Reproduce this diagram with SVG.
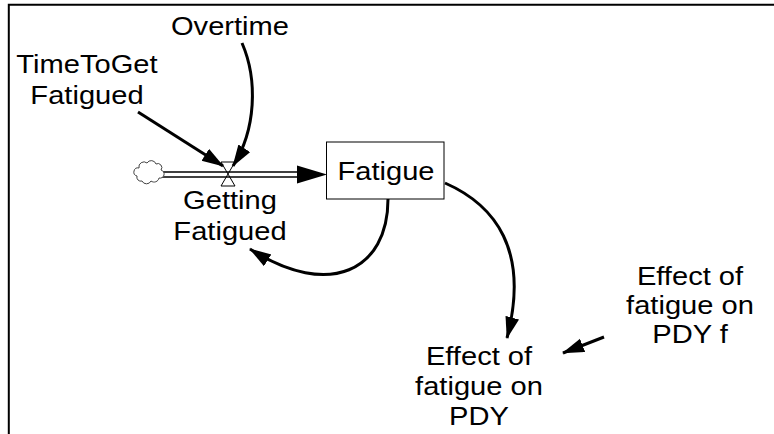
<svg xmlns="http://www.w3.org/2000/svg" width="774" height="434" viewBox="0 0 774 434">
<style>
.lbl{font-family:"Liberation Sans",Arial,sans-serif;font-size:26px;fill:#000;text-anchor:middle}
.link{fill:none;stroke:#000;stroke-width:3;marker-end:url(#ah)}
.frame{stroke:#000;stroke-width:2;fill:none}
</style>
<defs>
<marker id="ah" markerUnits="userSpaceOnUse" markerWidth="24" markerHeight="16" refX="21" refY="7" orient="auto">
<path d="M0,0 L22,7 L0,14 Z" fill="#000"/>
</marker>
</defs>
<rect width="774" height="434" fill="#fff"/>
<path class="frame" d="M8.8,434 L8.8,4.8 L774,4.8"/>

<g id="connectors">
<g id="flow-pipe">
<line x1="162" y1="174.5" x2="299" y2="174.5" stroke="#000" stroke-width="6.5"/>
<line x1="161" y1="174.5" x2="300" y2="174.5" stroke="#fff" stroke-width="3.5"/>
<polygon points="297,165.5 327,174.5 297,183.5" fill="#000"/>
</g>
<path class="link" d="M138,112 L223,166"/>
<path class="link" d="M242,43 C258,80 256,130 233,166"/>
<path class="link" d="M388,199 C388,270 330,300 250,249"/>
<path class="link" d="M445,183 C495,205 530,250 507,338"/>
<path class="link" d="M604,337 L563,353"/>
</g>

<g id="cloud">
<path d="M137,176 a4,4 0 0,1 2,-8 a5,5 0 0,1 8,-5 a5,5 0 0,1 9,1 a4,4 0 0,1 5,6 a4,4 0 0,1 -2,8 a5,5 0 0,1 -8,3 a5,5 0 0,1 -9,0 a4,4 0 0,1 -5,-5 Z" fill="#fff" stroke="#444" stroke-width="1"/>
</g>

<g id="overtime">
<text class="lbl" transform="translate(230,35) scale(1.12,1)">Overtime</text>
</g>

<g id="timetoget">
<text class="lbl" transform="translate(87,73) scale(1.12,1)"><tspan x="0" y="0">TimeToGet</tspan><tspan x="0" y="31">Fatigued</tspan></text>
</g>

<g id="getting-fatigued">
<path d="M221,162 L235,162 L221,186 L235,186 Z" fill="none" stroke="#000" stroke-width="1"/>
<text class="lbl" transform="translate(230,209) scale(1.12,1)"><tspan x="0" y="0">Getting</tspan><tspan x="0" y="31">Fatigued</tspan></text>
</g>

<g id="fatigue">
<rect x="326.5" y="142" width="117.5" height="57" fill="#fff" stroke="#000" stroke-width="1"/>
<text class="lbl" transform="translate(386,179.5) scale(1.12,1)">Fatigue</text>
</g>

<g id="effect-pdy">
<text class="lbl" transform="translate(479,365) scale(1.12,1)"><tspan x="0" y="0">Effect of</tspan><tspan x="0" y="30">fatigue on</tspan><tspan x="0" y="60">PDY</tspan></text>
</g>

<g id="effect-pdy-f">
<text class="lbl" transform="translate(690,285) scale(1.12,1)"><tspan x="0" y="0">Effect of</tspan><tspan x="0" y="29">fatigue on</tspan><tspan x="0" y="58">PDY f</tspan></text>
</g>
</svg>
